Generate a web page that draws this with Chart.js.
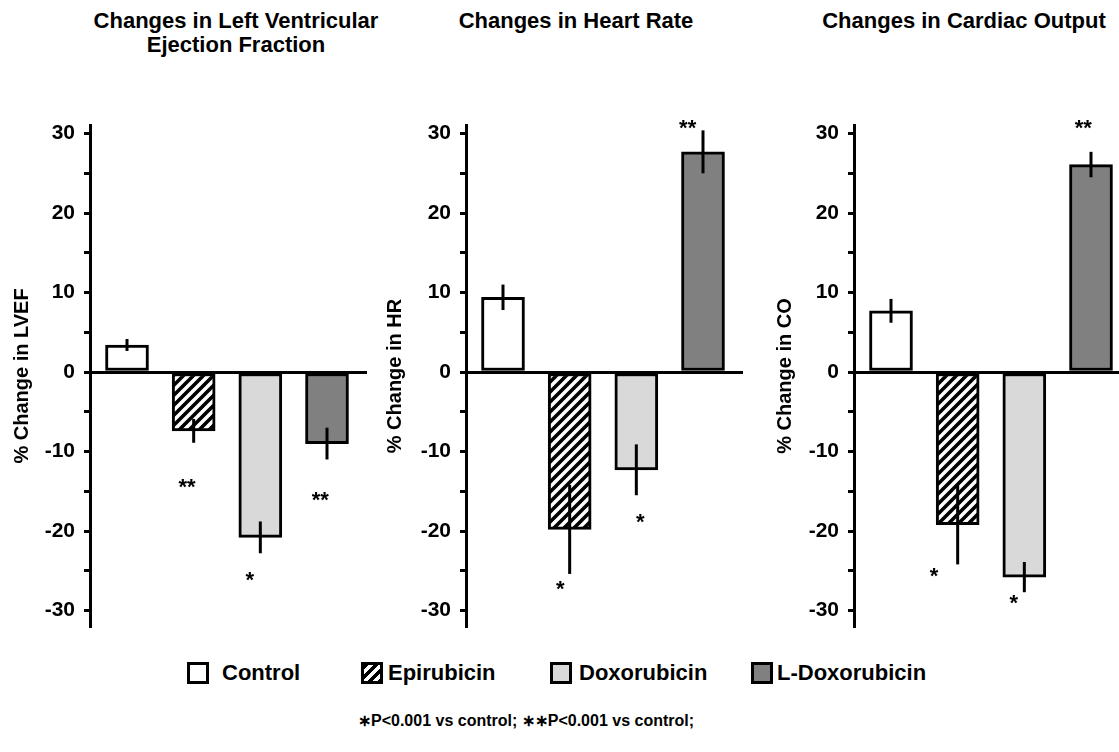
<!DOCTYPE html>
<html>
<head>
<meta charset="utf-8">
<script src="https://cdn.jsdelivr.net/npm/chart.js@4.4.0/dist/chart.umd.min.js"></script>
<style>
  html, body { margin: 0; padding: 0; background: #fff; overflow: hidden; }
  body { width: 1119px; height: 752px; position: relative; font-family: 'Liberation Sans', Arial, sans-serif; font-weight: bold; color: #000; }
  .title { position: absolute; top: 9px; width: 400px; font-size: 22px; line-height: 24px; text-align: center; white-space: nowrap; }
  .panel { position: absolute; top: 104px; height: 544px; }
  .legend-item { position: absolute; top: 661px; height: 24px; display: flex; align-items: center; font-size: 22px; white-space: nowrap; }
  .swatch { width: 22px; height: 22px; box-sizing: border-box; border: 3px solid #000; display: inline-block; }
  .note { position: absolute; left: 358px; top: 711px; font-size: 16px; white-space: nowrap; }
</style>
</head>
<body>
<div class="title" style="left:36px">Changes in Left Ventricular<br>Ejection Fraction</div>
<div class="title" style="left:376px">Changes in Heart Rate</div>
<div class="title" style="left:764px">Changes in Cardiac Output</div>

<div class="panel" style="left:0px;width:367px"><canvas id="lvef"></canvas></div>
<div class="panel" style="left:373px;width:370px"><canvas id="hr"></canvas></div>
<div class="panel" style="left:763px;width:368px"><canvas id="co"></canvas></div>

<div id="legend"></div>
<div class="note">∗P&lt;0.001 vs control; ∗∗P&lt;0.001 vs control;</div>

<script>
const groups = ['Control', 'Epirubicin', 'Doxorubicin', 'L-Doxorubicin'];
const yTicks = [-30, -25, -20, -15, -10, -5, 0, 5, 10, 15, 20, 25, 30];

const lvefMeans = [3.4, -7.4, -20.8, -9.0];
const lvefErrors = [0.75, 1.5, 2.0, 2.0];
const lvefMarks = ['', '**', '*', '**'];
const lvefMarkY = [0, -13.8, -25.5, -15.4];
const lvefMarkShift = [0, -0.1, -0.16, -0.1];

const hrMeans = [9.4, -19.8, -12.3, 27.7];
const hrErrors = [1.6, 5.6, 3.2, 2.7];
const hrMarks = ['', '*', '*', '**'];
const hrMarkY = [0, -26.6, -18.2, 31.4];
const hrMarkShift = [0, -0.14, 0.06, -0.23];

const coMeans = [7.7, -19.2, -25.8, 26.1];
const coErrors = [1.5, 5.0, 1.9, 1.6];
const coMarks = ['', '*', '*', '**'];
const coMarkY = [0, -24.9, -28.4, 31.4];
const coMarkShift = [0, -0.355, -0.16, -0.115];

const FONT = "'Liberation Sans', Arial, sans-serif";

const makeHatch = () => {
  const c = document.createElement('canvas');
  c.width = 10;
  c.height = 10;
  const g = c.getContext('2d');
  g.fillStyle = '#000';
  g.fillRect(0, 0, 10, 10);
  g.strokeStyle = '#fff';
  g.lineWidth = 3.5;
  g.beginPath();
  g.moveTo(-2, 12); g.lineTo(12, -2);
  g.moveTo(-2, 2); g.lineTo(2, -2);
  g.moveTo(8, 12); g.lineTo(12, 8);
  g.stroke();
  return g.createPattern(c, 'repeat');
};

const hatch = makeHatch();
const fills = ['#ffffff', hatch, '#d9d9d9', '#808080'];

// error bars + significance marks, drawn in data space
const errorBars = {
  id: 'errorBars',
  afterDatasetsDraw(chart, args, opts) {
    const { ctx, scales: { x, y } } = chart;
    const bars = chart.getDatasetMeta(0).data;
    ctx.save();
    ctx.strokeStyle = '#000';
    ctx.lineWidth = 3;
    bars.forEach((bar, i) => {
      const m = opts.means[i];
      const e = opts.errors[i];
      ctx.beginPath();
      ctx.moveTo(bar.x, y.getPixelForValue(m - e));
      ctx.lineTo(bar.x, y.getPixelForValue(m + e));
      ctx.stroke();
    });
    const size = 22;
    ctx.font = `bold ${size}px ${FONT}`;
    ctx.fillStyle = '#000';
    ctx.textAlign = 'center';
    ctx.textBaseline = 'alphabetic';
    opts.marks.forEach((t, i) => {
      if (!t) return;
      const px = x.getPixelForValue(i + opts.shifts[i]);
      const py = y.getPixelForValue(opts.markY[i]) + size * 0.57;
      ctx.fillText(t, px, py);
    });
    ctx.restore();
  }
};

const makeChart = (id, label, means, errors, marks, markY, shifts, axisWidth) => {
  new Chart(document.getElementById(id), {
    type: 'bar',
    data: {
      datasets: [{
        data: means.map((v, i) => ({ x: i, y: v })),
        backgroundColor: fills,
        borderColor: '#000',
        borderWidth: 3,
        borderSkipped: false,
        barThickness: 43
      }]
    },
    options: {
      responsive: true,
      maintainAspectRatio: false,
      animation: false,
      layout: { padding: { top: 20, bottom: 20, left: 0, right: 0 } },
      plugins: {
        legend: { display: false },
        tooltip: { enabled: false },
        errorBars: { means, errors, marks, markY, shifts }
      },
      scales: {
        x: { type: 'linear', offset: false, min: -0.555, max: 3.6, display: false },
        y: {
          min: -32,
          max: 31,
          afterBuildTicks: axis => { axis.ticks = yTicks.map(v => ({ value: v })); },
          afterFit: axis => { axis.width = axisWidth; },
          border: { display: true, color: '#000', width: 3 },
          grid: {
            color: c => (c.tick && c.tick.value === 0 ? '#000' : 'rgba(0,0,0,0)'),
            lineWidth: 3,
            drawTicks: true,
            tickColor: '#000',
            tickLength: 6,
            tickWidth: 3
          },
          ticks: {
            color: '#000',
            padding: 9,
            font: { family: FONT, size: 21, weight: 'bold' },
            callback: v => (v % 10 === 0 ? String(v) : '')
          },
          title: {
            display: true,
            text: label,
            color: '#000',
            font: { family: FONT, size: 20, weight: 'bold' },
            padding: { top: 10, bottom: 0 }
          }
        }
      }
    },
    plugins: [errorBars]
  });
};

makeChart('lvef', '% Change in LVEF', lvefMeans, lvefErrors, lvefMarks, lvefMarkY, lvefMarkShift, 90);
makeChart('hr', '% Change in HR', hrMeans, hrErrors, hrMarks, hrMarkY, hrMarkShift, 93);
makeChart('co', '% Change in CO', coMeans, coErrors, coMarks, coMarkY, coMarkShift, 91);

// legend
const legendLeft = [187, 361, 550, 751];
const legendGap = [13, 5, 7, 4];
const legend = document.getElementById('legend');
groups.forEach((name, i) => {
  const item = document.createElement('div');
  item.className = 'legend-item';
  item.style.left = legendLeft[i] + 'px';
  const sw = document.createElement('span');
  sw.className = 'swatch';
  sw.style.marginRight = legendGap[i] + 'px';
  if (i === 1) {
    sw.style.background = 'repeating-linear-gradient(135deg, #000 0 3.5px, #fff 3.5px 7px)';
  } else {
    sw.style.background = fills[i];
  }
  item.appendChild(sw);
  item.appendChild(document.createTextNode(name));
  legend.appendChild(item);
});
</script>
</body>
</html>
